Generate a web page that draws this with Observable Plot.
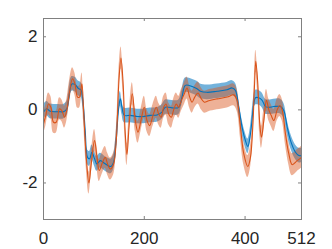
<!DOCTYPE html>
<html>
<head>
<meta charset="utf-8">
<script src="https://cdn.jsdelivr.net/npm/d3@7"></script>
<script src="https://cdn.jsdelivr.net/npm/@observablehq/plot@0.6"></script>
<style>
  html, body { margin: 0; padding: 0; background: #fff; }
  #chart svg { display: block; }
</style>
</head>
<body>
<div id="chart"></div>
<script>
// Blue series (mean) — sample positions and values
const blueX = [0, 6.6, 13.2, 29.8, 39.7, 46.4, 49.7, 56.3, 62.9, 69.6, 74.2, 78.2, 82.8, 87.4, 91.4, 96.0, 101.3, 106.0, 112.6, 120.6, 127.2, 133.8, 139.1, 143.7, 149.0, 152.4, 155.7, 160.3, 172.2, 185.5, 198.7, 212.0, 225.2, 235.2, 241.8, 258.3, 268.3, 274.9, 281.5, 294.8, 304.7, 311.3, 324.6, 344.4, 364.3, 374.3, 380.9, 387.5, 394.1, 400.7, 405.4, 410.7, 417.3, 420.6, 427.2, 433.9, 440.5, 447.1, 457.1, 470.3, 476.9, 483.6, 490.2, 500.1, 506.7, 512];
const blueY = [-0.06, 0.03, -0.04, -0.05, -0.05, 0.03, 0.26, 0.71, 0.69, 0.58, 0.55, 0.26, -0.57, -1.30, -1.34, -1.16, -1.34, -1.48, -1.39, -1.46, -1.52, -1.55, -1.43, -0.93, 0.02, 0.30, 0.07, -0.15, -0.15, -0.18, -0.18, -0.15, -0.14, -0.06, 0.07, 0.05, 0.07, 0.35, 0.67, 0.64, 0.58, 0.51, 0.48, 0.51, 0.55, 0.60, 0.53, 0.07, -0.47, -0.84, -1.00, -0.66, 0.16, 0.33, 0.33, 0.26, 0.09, 0.07, 0.09, 0.09, -0.02, -0.47, -0.84, -1.16, -1.25, -1.25];
const blueBand = 0.2;

// Orange series (mean)
const orangeX = [0, 4.6, 9.9, 14.6, 19.9, 25.2, 31.8, 36.4, 41.7, 46.4, 51.0, 57.6, 62.3, 67.6, 71.5, 76.2, 79.5, 84.8, 90.1, 94.7, 101.3, 106.0, 110.6, 115.9, 122.5, 127.2, 132.5, 139.1, 144.4, 149.7, 153.7, 157.7, 161.6, 165.6, 170.2, 176.2, 182.2, 187.5, 193.4, 200.0, 205.3, 210.6, 217.3, 223.9, 228.5, 233.2, 238.5, 243.1, 248.4, 253.7, 258.3, 263.6, 268.3, 273.6, 279.5, 284.8, 290.1, 294.8, 300.1, 306.7, 313.3, 319.3, 327.9, 344.4, 364.3, 377.6, 384.2, 390.8, 397.4, 405.4, 410.7, 415.3, 418.6, 421.3, 425.3, 429.2, 432.6, 437.2, 442.5, 447.1, 451.8, 457.1, 463.7, 469.0, 473.6, 480.2, 486.8, 493.5, 503.4, 512];
const orangeY = [-0.38, -0.15, 0.16, 0.07, -0.34, -0.34, 0.03, -0.02, -0.20, 0.00, 0.44, 0.85, 0.71, 0.35, 0.35, 0.71, 0.00, -1.28, -2.00, -1.48, -0.84, -1.28, -1.66, -1.48, -1.30, -1.48, -1.62, -1.48, -0.84, 0.80, 1.42, 0.80, -0.47, -1.22, -0.38, 0.44, -0.29, -0.61, -0.29, 0.07, -0.29, -0.43, -0.15, 0.07, -0.11, -0.20, 0.07, 0.16, -0.11, -0.20, 0.00, 0.16, 0.07, 0.26, 0.44, 0.60, 0.35, 0.21, 0.35, 0.46, 0.30, 0.21, 0.25, 0.30, 0.35, 0.41, 0.26, -0.47, -1.20, -1.55, -1.30, -0.47, 0.62, 1.33, 0.71, -0.38, -0.75, -0.29, 0.26, 0.00, -0.15, -0.29, 0.00, 0.12, 0.00, -0.66, -1.20, -1.50, -1.39, -1.30];
const orangeBand = 0.3;

const xTicks = [0, 200, 400, 512];
const yTicks = [-2, 0, 2];
const xDomain = [0, 512];
const yDomain = [-3, 2.5];

const blue = blueX.map((x, i) => ({x, y: blueY[i], lo: blueY[i] - blueBand, hi: blueY[i] + blueBand}));
const orange = orangeX.map((x, i) => ({x, y: orangeY[i], lo: orangeY[i] - orangeBand, hi: orangeY[i] + orangeBand}));

const W = 332, H = 249;
const mL = 43, mR = 31, mT = 18, mB = 30;
const innerW = W - mL - mR, innerH = H - mT - mB;
const axisColor = "#808080";
const tickLen = 3;

const chart = Plot.plot({
  width: W,
  height: H,
  marginLeft: mL,
  marginRight: mR,
  marginTop: mT,
  marginBottom: mB,
  style: {fontFamily: "'Liberation Sans', Arial, Helvetica, sans-serif", fontSize: "17px", color: "#262626", background: "#fff"},
  x: {domain: xDomain, label: null},
  y: {domain: yDomain, label: null},
  marks: [
    Plot.areaY(blue, {x: "x", y1: "lo", y2: "hi", fill: "#0072BD", fillOpacity: 0.55, curve: "catmull-rom"}),
    Plot.areaY(orange, {x: "x", y1: "lo", y2: "hi", fill: "#D95319", fillOpacity: 0.45, curve: "catmull-rom"}),
    Plot.line(blue, {x: "x", y: "y", stroke: "#0072BD", strokeWidth: 1.1, curve: "catmull-rom"}),
    Plot.line(orange, {x: "x", y: "y", stroke: "#D95319", strokeWidth: 1.1, curve: "catmull-rom"}),
    Plot.frame({stroke: axisColor}),
    // inward ticks
    Plot.ruleX(xTicks, {stroke: axisColor, insetTop: innerH - tickLen}),
    Plot.ruleX(xTicks, {stroke: axisColor, insetBottom: innerH - tickLen}),
    Plot.ruleY(yTicks, {stroke: axisColor, insetRight: innerW - tickLen}),
    Plot.ruleY(yTicks, {stroke: axisColor, insetLeft: innerW - tickLen}),
    Plot.axisX({ticks: xTicks, tickFormat: d => String(d), tickSize: 0, tickPadding: 12, fontSize: 17, fill: "#262626", label: null}),
    Plot.axisY({ticks: yTicks, tickFormat: d => String(d), tickSize: 0, tickPadding: 6, fontSize: 17, fill: "#262626", label: null})
  ]
});
document.getElementById("chart").appendChild(chart);
</script>
</body>
</html>
